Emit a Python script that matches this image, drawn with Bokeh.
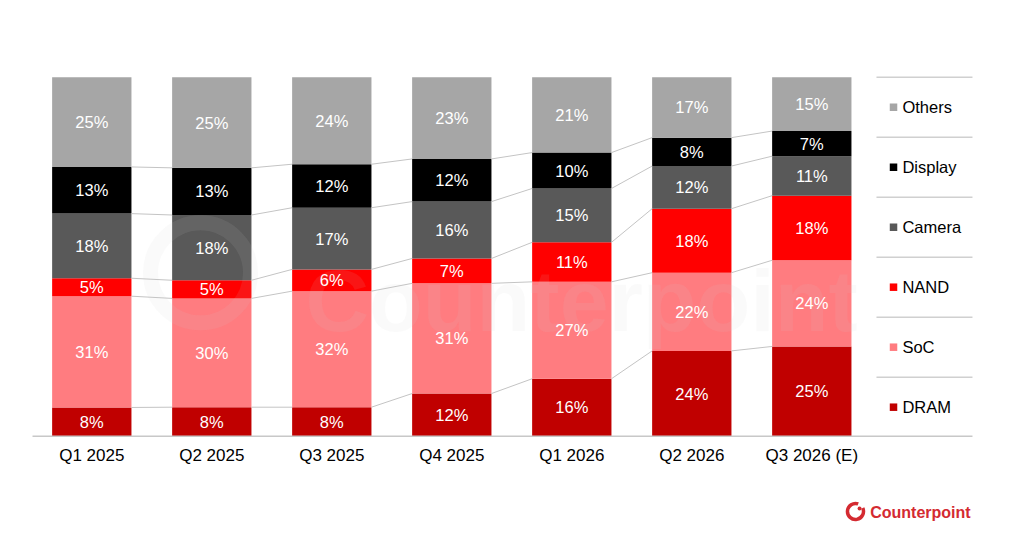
import numpy as np
from bokeh.plotting import figure
from bokeh.models import Range1d, ColumnDataSource
from bokeh.core.properties import value
from bokeh.embed import file_html
from bokeh.resources import INLINE

# ---- data ----
quarters = ["Q1 2025", "Q2 2025", "Q3 2025", "Q4 2025", "Q1 2026", "Q2 2026", "Q3 2026 (E)"]
series_names = ["DRAM", "SoC", "NAND", "Camera", "Display", "Others"]
dram    = [8, 8, 8, 12, 16, 24, 25]
soc     = [31, 30, 32, 31, 27, 22, 24]
nand    = [5, 5, 6, 7, 11, 18, 18]
camera  = [18, 18, 17, 16, 15, 12, 11]
display = [13, 13, 12, 12, 10, 8, 7]
others  = [25, 25, 24, 23, 21, 17, 15]
colors = ["#c00000", "#ff7c80", "#ff0000", "#595959", "#000000", "#a6a6a6"]

FONT = "Liberation Sans"
RED = "#d42a31"

vals = np.array([dram, soc, nand, camera, display, others], dtype=float)
fracs = vals / vals.sum(axis=0)
tops = np.cumsum(fracs, axis=0)
bottoms = tops - fracs
xs = np.arange(len(quarters), dtype=float)
BW = 0.661

# pixel mapping (page): page_x = 91.3 + 120*x ; page_y = 435.7 - 359*y
p = figure(width=1008, height=533, output_backend="svg", toolbar_location=None,
           x_range=Range1d(-0.7608, 7.6392), y_range=Range1d(-0.27103, 1.21365),
           x_axis_location=None, y_axis_location=None, min_border=0,
           outline_line_color=None, background_fill_color="white")
p.xgrid.visible = False
p.ygrid.visible = False

# bars
for i, name in enumerate(series_names):
    src = ColumnDataSource(dict(x=xs, bottom=bottoms[i], top=tops[i]))
    p.vbar(x="x", bottom="bottom", top="top", width=BW, source=src,
           fill_color=colors[i], line_color=None)

# connector lines between bars
cx0, cx1, cy0, cy1 = [], [], [], []
for i in range(len(series_names) - 1):
    for j in range(len(quarters) - 1):
        cx0.append(xs[j] + BW / 2)
        cx1.append(xs[j + 1] - BW / 2)
        cy0.append(tops[i][j])
        cy1.append(tops[i][j + 1])
p.segment(x0=cx0, y0=cy0, x1=cx1, y1=cy1, line_color="#c4c4c4", line_width=1)

# watermark
p.circle(x=[0.906], y=[0.455], radius=50, radius_units="screen", fill_color=None,
         line_color="#d0d0d0", line_alpha=0.1, line_width=15)
p.text(x=[1.781], y=[0.378], text=["Counterpoint"], text_font=value(FONT),
       text_font_style="bold", text_font_size="88px", text_color="#d0d0d0",
       text_alpha=0.1, text_baseline="alphabetic", text_align="left")

# value labels
for i, name in enumerate(series_names):
    p.text(x=xs, y=(bottoms[i] + tops[i]) / 2, text=[f"{int(v)}%" for v in vals[i]],
           text_font=value(FONT), text_font_size="16.5px", text_color="white",
           text_align="center", text_baseline="middle")

# axis line (continues under legend)
p.segment(x0=[-0.494], y0=[0], x1=[7.339], y1=[0], line_color="#c8c8c8", line_width=1.5)

# category labels
p.text(x=xs, y=[-0.0538] * len(xs), text=quarters, text_font=value(FONT),
       text_font_size="17px", text_color="#000000", text_align="center",
       text_baseline="middle")

# legend table on right
n = len(series_names)
line_ys = [1 - 60 * k / 359 for k in range(n + 1)]
p.segment(x0=[6.539] * n, y0=line_ys[:n], x1=[7.339] * n, y1=line_ys[:n],
          line_color="#d0d0d0", line_width=1.5)
leg_names = series_names[::-1]
leg_colors = colors[::-1]
row_ys = [1 - (30 + 60 * k) / 359 for k in range(n)]
p.scatter(x=[6.681] * n, y=row_ys, marker="square", size=7.5,
          fill_color=leg_colors, line_color=None)
p.text(x=[6.755] * n, y=row_ys, text=leg_names, text_font=value(FONT),
       text_font_size="16.5px", text_color="#000000", text_align="left",
       text_baseline="middle")

# logo
p.arc(x=[6.364], y=[-0.2097], radius=8, radius_units="screen",
      start_angle=np.deg2rad(70), end_angle=np.deg2rad(385), direction="anticlock",
      line_color=RED, line_width=3.5)
p.scatter(x=[6.398], y=[-0.2014], size=4, marker="circle", fill_color=RED, line_color=None)
p.text(x=[6.487], y=[-0.2125], text=["Counterpoint"], text_font=value(FONT),
       text_font_style="bold", text_font_size="16px", text_color=RED,
       text_align="left", text_baseline="middle")

open("out.html", "w").write(file_html(p, INLINE))
